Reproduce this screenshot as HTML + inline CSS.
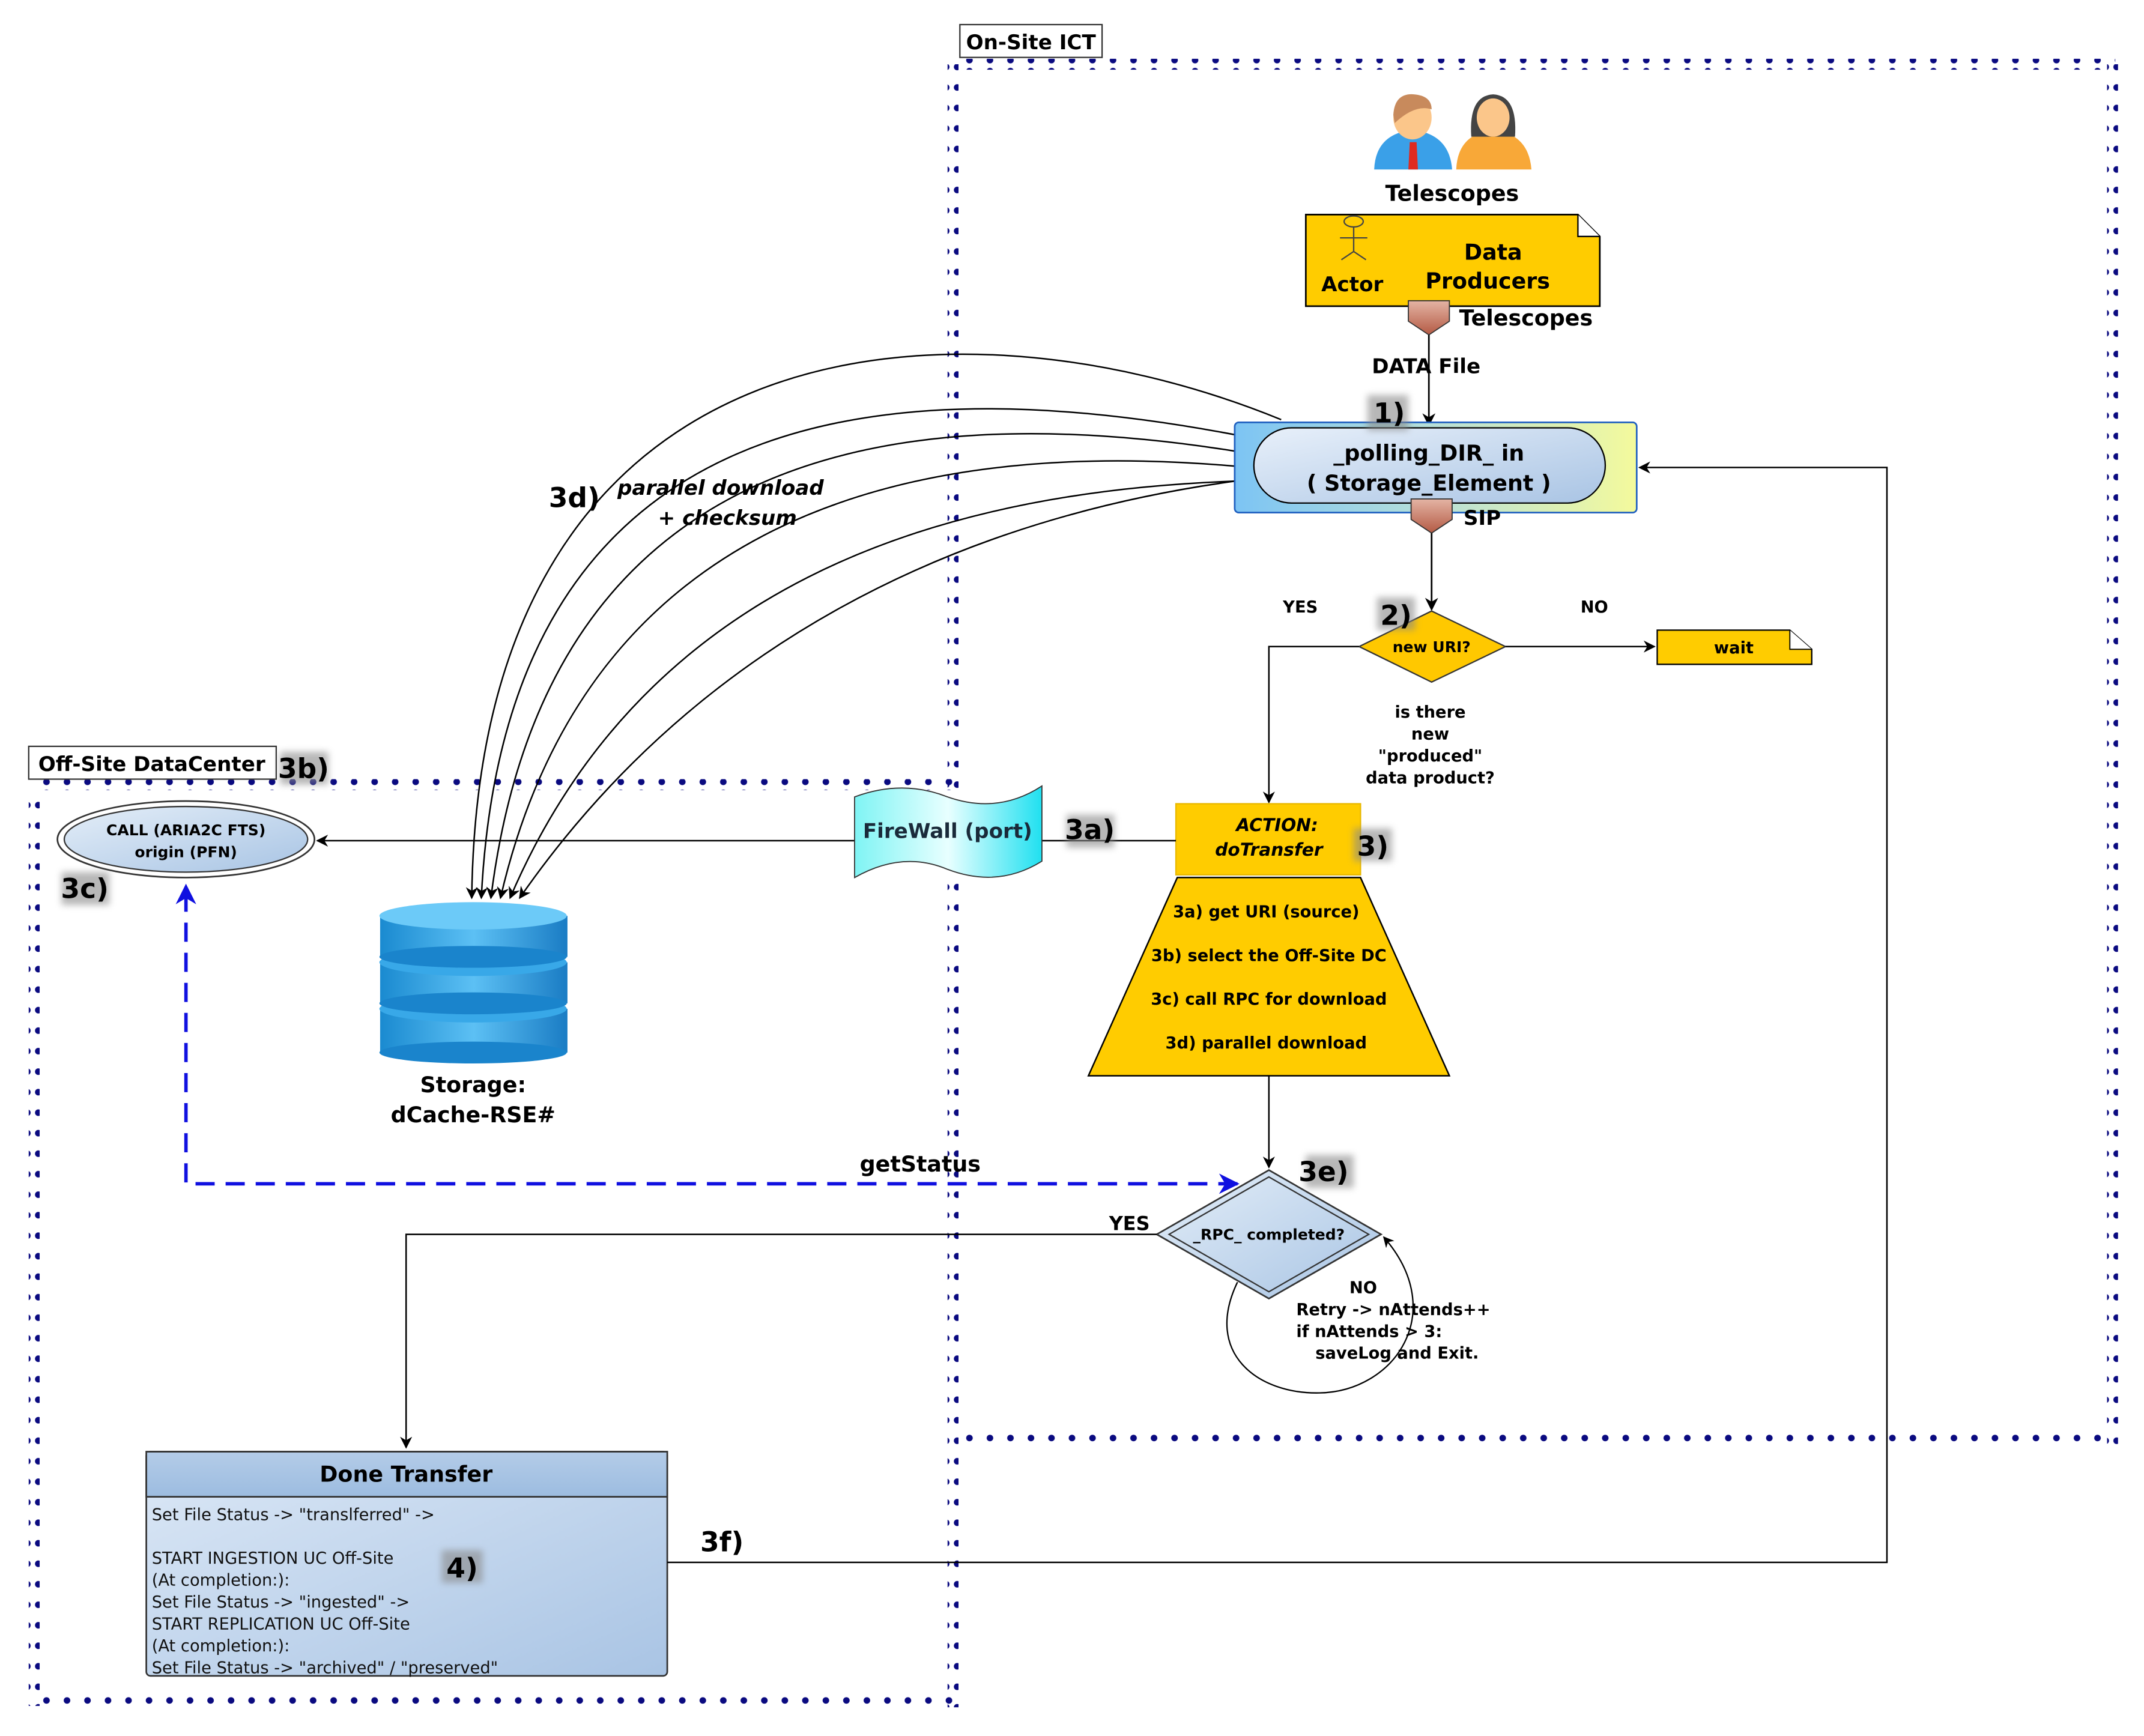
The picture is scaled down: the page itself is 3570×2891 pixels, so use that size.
<!DOCTYPE html>
<html><head><meta charset="utf-8"><style>
html,body{margin:0;padding:0;background:#fff;}
svg{display:block;}
text{font-family:"DejaVu Sans","Liberation Sans",sans-serif;}
</style></head><body>
<svg width="3570" height="2891" viewBox="0 0 1568 1270" preserveAspectRatio="none" xmlns="http://www.w3.org/2000/svg">
<defs>
<marker id="ar" viewBox="0 0 10 10" refX="9" refY="5" markerWidth="8" markerHeight="8" orient="auto-start-reverse"><path d="M0,0 L10,5 L0,10 L3,5 z" fill="#000"/></marker>
<marker id="arb" viewBox="0 0 10 10" refX="9" refY="5" markerWidth="6" markerHeight="6" orient="auto-start-reverse"><path d="M0,0 L10,5 L0,10 L3,5 z" fill="#1010e0"/></marker>
<linearGradient id="pg" x1="0" x2="1" y1="0" y2="0"><stop offset="0" stop-color="#7cc4f4"/><stop offset="0.5" stop-color="#b8e0d8"/><stop offset="1" stop-color="#f4fa9c"/></linearGradient>
<linearGradient id="pill" x1="0" x2="1" y1="0" y2="1"><stop offset="0" stop-color="#e8f0fa"/><stop offset="1" stop-color="#a9c4e4"/></linearGradient>
<linearGradient id="dg" x1="0" x2="1" y1="0" y2="1"><stop offset="0" stop-color="#e4eef8"/><stop offset="1" stop-color="#a8c4e4"/></linearGradient>
<linearGradient id="fw" x1="0" x2="1"><stop offset="0" stop-color="#7ff4f4"/><stop offset="0.5" stop-color="#e8ffff"/><stop offset="1" stop-color="#20e0f0"/></linearGradient>
<linearGradient id="hd" x1="0" x2="0" y1="0" y2="1"><stop offset="0" stop-color="#b4cce8"/><stop offset="1" stop-color="#9cbce0"/></linearGradient>
<linearGradient id="bd" x1="0" x2="1" y1="0" y2="1"><stop offset="0" stop-color="#dce8f6"/><stop offset="1" stop-color="#a9c4e4"/></linearGradient>
<linearGradient id="cyl" x1="0" x2="1"><stop offset="0" stop-color="#1a8ad0"/><stop offset="0.5" stop-color="#5cc0f4"/><stop offset="1" stop-color="#1a7cc4"/></linearGradient>
<linearGradient id="port" x1="0" x2="0" y1="0" y2="1"><stop offset="0" stop-color="#e4b4a4"/><stop offset="1" stop-color="#b45a44"/></linearGradient>
<filter id="bl" x="-30%" y="-30%" width="160%" height="160%"><feGaussianBlur stdDeviation="2.5"/></filter>
<pattern id="dh" width="15" height="8" patternUnits="userSpaceOnUse"><circle cx="4" cy="4" r="2.4" fill="#0a0a80"/></pattern>
<pattern id="dv" width="8" height="15" patternUnits="userSpaceOnUse"><circle cx="4" cy="4" r="2.4" fill="#0a0a80"/></pattern>
</defs>

<rect x="697" y="43" width="850" height="8" fill="url(#dh)"/>
<rect x="1541" y="47" width="8" height="1010" fill="url(#dv)"/>
<rect x="705" y="1049" width="840" height="8" fill="url(#dh)"/>
<rect x="693" y="47" width="8" height="1202" fill="url(#dv)"/>
<rect x="25" y="570" width="672" height="8" fill="url(#dh)"/>
<rect x="21" y="578" width="8" height="670" fill="url(#dv)"/>
<rect x="25" y="1241" width="672" height="8" fill="url(#dh)"/>

<rect x="702" y="18" width="104" height="24" fill="#fff" stroke="#333" stroke-width="1"/>
<text x="754" y="36" font-size="15" font-weight="bold" text-anchor="middle">On-Site ICT</text>
<rect x="21" y="546" width="181" height="24" fill="#fff" stroke="#333" stroke-width="1"/>
<text x="111" y="564" font-size="15" font-weight="bold" text-anchor="middle">Off-Site DataCenter</text>

<g>
<path d="M1005,124 Q1006,98 1033,95 Q1060,98 1062,124 Z" fill="#3aa0e8"/>
<path d="M1031,104 L1036,104 L1037,124 L1030,124 Z" fill="#e02a20"/>
<ellipse cx="1033" cy="86" rx="14" ry="16" fill="#fbc68a"/>
<path d="M1019,84 Q1020,68 1034,69 Q1047,70 1047,80 Q1035,76 1020,90 Z" fill="#c88a5c"/>
<path d="M1065,124 Q1066,98 1092,95 Q1118,98 1120,124 Z" fill="#f8a838"/>
<path d="M1076,100 Q1074,70 1092,69 Q1110,70 1108,100 Z" fill="#444"/>
<ellipse cx="1092" cy="86" rx="12" ry="14" fill="#fbc68a"/>
</g>
<text x="1062" y="147" font-size="16" font-weight="bold" text-anchor="middle">Telescopes</text>

<path d="M955,157 L1154,157 L1170,173 L1170,224 L955,224 Z" fill="#ffcc00" stroke="#000" stroke-width="1.2"/>
<path d="M1154,157 L1154,173 L1170,173" fill="#fff" stroke="#000" stroke-width="1"/>
<g stroke="#444" stroke-width="1" fill="none"><ellipse cx="990" cy="162" rx="7" ry="4"/><path d="M990,166 V184 M980,174 H1000 M990,184 L981,190 M990,184 L999,190"/></g>
<text x="989" y="213" font-size="15" font-weight="bold" text-anchor="middle">Actor</text>
<text x="1092" y="190" font-size="16" font-weight="bold" text-anchor="middle">Data</text>
<text x="1088" y="211" font-size="16" font-weight="bold" text-anchor="middle">Producers</text>
<path d="M1030,220 L1060,220 L1060,235 L1045,245 L1030,235 Z" fill="url(#port)" stroke="#333" stroke-width="0.8"/>
<text x="1116" y="238" font-size="16" font-weight="bold" text-anchor="middle">Telescopes</text>
<line x1="1045" y1="245" x2="1045" y2="311" stroke="#000" stroke-width="1.2" marker-end="url(#ar)"/>
<text x="1043" y="273" font-size="15" font-weight="bold" text-anchor="middle">DATA File</text>

<g fill="none" stroke="#000" stroke-width="1.1" marker-end="url(#ar)">
<path d="M937,307 C700,210 350,230 345,657"/>
<path d="M903,318 C650,270 370,290 352,657"/>
<path d="M903,330 C650,290 400,330 359,657"/>
<path d="M903,341 C660,320 430,380 366,657"/>
<path d="M903,352 C680,360 470,430 373,657"/>
<path d="M903,352 C700,380 510,470 380,657"/>
</g>
<text x="420" y="371" font-size="20" font-weight="bold" text-anchor="middle">3d)</text>
<text x="527" y="362" font-size="15" font-weight="bold" font-style="italic" text-anchor="middle">parallel download</text>
<text x="532" y="384" font-size="15" font-weight="bold" font-style="italic" text-anchor="middle">+ checksum</text>

<rect x="903" y="309" width="294" height="66" rx="3" fill="url(#pg)" stroke="#2060c0" stroke-width="1.2"/>
<rect x="917" y="313" width="257" height="55" rx="27.5" fill="url(#pill)" stroke="#000" stroke-width="1"/>
<text x="1045" y="337" font-size="16" font-weight="bold" text-anchor="middle">_polling_DIR_ in</text>
<text x="1045" y="359" font-size="16" font-weight="bold" text-anchor="middle">( Storage_Element )</text>
<rect x="1000" y="289" width="30" height="26" fill="#888" opacity="0.6" filter="url(#bl)"/>
<text x="1016" y="309" font-size="20" font-weight="bold" text-anchor="middle">1)</text>
<path d="M1032,365 L1062,365 L1062,380 L1047,390 L1032,380 Z" fill="url(#port)" stroke="#333" stroke-width="0.8"/>
<text x="1084" y="384" font-size="15" font-weight="bold" text-anchor="middle">SIP</text>
<line x1="1047" y1="390" x2="1047" y2="446" stroke="#000" stroke-width="1.2" marker-end="url(#ar)"/>

<polygon points="1047,447 1101,473 1047,499 994,473" fill="#ffc800" stroke="#333" stroke-width="1"/>
<text x="1047" y="477" font-size="11" font-weight="bold" text-anchor="middle">new URI?</text>
<rect x="1007" y="437" width="28" height="24" fill="#888" opacity="0.6" filter="url(#bl)"/>
<text x="1021" y="457" font-size="20" font-weight="bold" text-anchor="middle">2)</text>
<text x="951" y="448" font-size="12" font-weight="bold" text-anchor="middle">YES</text>
<text x="1166" y="448" font-size="12" font-weight="bold" text-anchor="middle">NO</text>
<line x1="1101" y1="473" x2="1210" y2="473" stroke="#000" stroke-width="1.1" marker-end="url(#ar)"/>
<path d="M1212,461 L1309,461 L1325,475 L1325,486 L1212,486 Z" fill="#ffcc00" stroke="#000" stroke-width="1"/>
<path d="M1309,461 L1309,475 L1325,475" fill="#fff" stroke="#000" stroke-width="0.8"/>
<text x="1268" y="478" font-size="12" font-weight="bold" text-anchor="middle">wait</text>
<path d="M994,473 L928,473 L928,587" fill="none" stroke="#000" stroke-width="1.1" marker-end="url(#ar)"/>
<g font-size="12" font-weight="bold" text-anchor="middle">
<text x="1046" y="525">is there</text><text x="1046" y="541">new</text><text x="1046" y="557">"produced"</text><text x="1046" y="573">data product?</text>
</g>

<rect x="860" y="588" width="135" height="52" fill="#ffcc00" stroke="#e8b800" stroke-width="1"/>
<text x="934" y="608" font-size="13" font-weight="bold" font-style="italic" text-anchor="middle">ACTION:</text>
<text x="928" y="626" font-size="13" font-weight="bold" font-style="italic" text-anchor="middle">doTransfer</text>
<rect x="990" y="606" width="28" height="24" fill="#888" opacity="0.6" filter="url(#bl)"/>
<text x="1004" y="626" font-size="20" font-weight="bold" text-anchor="middle">3)</text>
<polygon points="861,642 995,642 1060,787 796,787" fill="#ffcc00" stroke="#000" stroke-width="1.1"/>
<g font-size="12" font-weight="bold" text-anchor="middle">
<text x="926" y="671">3a) get URI (source)</text>
<text x="928" y="703">3b) select the Off-Site DC</text>
<text x="928" y="735">3c) call RPC for download</text>
<text x="926" y="767">3d) parallel download</text>
</g>
<line x1="928" y1="787" x2="928" y2="854" stroke="#000" stroke-width="1.1" marker-end="url(#ar)"/>

<polygon points="928,856 1010,903 928,950 846,903" fill="url(#dg)" stroke="#333" stroke-width="1.2"/>
<polygon points="928,861 1001,903 928,945 855,903" fill="none" stroke="#333" stroke-width="1"/>
<text x="928" y="907" font-size="11" font-weight="bold" text-anchor="middle">_RPC_ completed?</text>
<rect x="955" y="845" width="35" height="24" fill="#888" opacity="0.6" filter="url(#bl)"/>
<text x="968" y="864" font-size="20" font-weight="bold" text-anchor="middle">3e)</text>
<text x="826" y="900" font-size="14" font-weight="bold" text-anchor="middle">YES</text>
<path d="M905,938 C880,990 920,1020 965,1019 C1020,1018 1060,960 1012,905" fill="none" stroke="#000" stroke-width="1" marker-end="url(#ar)"/>
<g font-size="12" font-weight="bold">
<text x="997" y="946" text-anchor="middle">NO</text>
<text x="948" y="962">Retry -&gt; nAttends++</text>
<text x="948" y="978">if nAttends &gt; 3:</text>
<text x="962" y="994">saveLog and Exit.</text>
</g>
<path d="M846,903 L297,903 L297,1059" fill="none" stroke="#000" stroke-width="1.1" marker-end="url(#ar)"/>

<line x1="860" y1="615" x2="232" y2="615" stroke="#000" stroke-width="1.1" marker-end="url(#ar)"/>
<path d="M625,583 Q660,570 693,583 Q730,596 762,575 L762,630 Q730,650 693,636 Q660,622 625,642 Z" fill="url(#fw)" stroke="#333" stroke-width="0.8"/>
<text x="693" y="613" font-size="15" font-weight="bold" fill="#1a2a3a" text-anchor="middle">FireWall (port)</text>
<rect x="780" y="596" width="35" height="24" fill="#888" opacity="0.6" filter="url(#bl)"/>
<text x="797" y="614" font-size="20" font-weight="bold" text-anchor="middle">3a)</text>

<ellipse cx="136" cy="614" rx="94" ry="28" fill="#fff" stroke="#333" stroke-width="1.2"/>
<ellipse cx="136" cy="614" rx="89" ry="24" fill="url(#dg)" stroke="#333" stroke-width="1"/>
<text x="136" y="611" font-size="11" font-weight="bold" text-anchor="middle">CALL (ARIA2C FTS)</text>
<text x="136" y="627" font-size="11" font-weight="bold" text-anchor="middle">origin (PFN)</text>
<rect x="45" y="638" width="35" height="24" fill="#888" opacity="0.6" filter="url(#bl)"/>
<text x="62" y="657" font-size="20" font-weight="bold" text-anchor="middle">3c)</text>
<rect x="205" y="550" width="35" height="24" fill="#888" opacity="0.6" filter="url(#bl)"/>
<text x="222" y="569" font-size="20" font-weight="bold" text-anchor="middle">3b)</text>

<g>
<rect x="278" y="738" width="137" height="32" fill="url(#cyl)"/><ellipse cx="346" cy="770" rx="68.5" ry="8" fill="#1a84cc"/><ellipse cx="346" cy="738" rx="68.5" ry="10" fill="#38a8e8"/>
<rect x="278" y="704" width="137" height="30" fill="url(#cyl)"/><ellipse cx="346" cy="734" rx="68.5" ry="8" fill="#1a84cc"/><ellipse cx="346" cy="704" rx="68.5" ry="10" fill="#38a8e8"/>
<rect x="278" y="670" width="137" height="30" fill="url(#cyl)"/><ellipse cx="346" cy="700" rx="68.5" ry="8" fill="#1a84cc"/><ellipse cx="346" cy="670" rx="68.5" ry="10" fill="#6ccaf8"/>
</g>
<text x="346" y="799" font-size="16" font-weight="bold" text-anchor="middle">Storage:</text>
<text x="346" y="821" font-size="16" font-weight="bold" text-anchor="middle">dCache-RSE#</text>

<path d="M905,866 L136,866 L136,648" fill="none" stroke="#1010e0" stroke-width="2.5" stroke-dasharray="14,8" marker-start="url(#arb)" marker-end="url(#arb)"/>
<text x="673" y="857" font-size="16" font-weight="bold" text-anchor="middle">getStatus</text>

<rect x="107" y="1062" width="381" height="164" rx="3" fill="url(#bd)" stroke="#333" stroke-width="1.2"/>
<rect x="107" y="1062" width="381" height="33" fill="url(#hd)" stroke="#333" stroke-width="1.2"/>
<text x="297" y="1084" font-size="16" font-weight="bold" text-anchor="middle">Done Transfer</text>
<g font-size="12" fill="#111">
<text x="111" y="1112">Set File Status -&gt; "translferred" -&gt;</text>
<text x="111" y="1144">START INGESTION UC Off-Site</text>
<text x="111" y="1160">(At completion:):</text>
<text x="111" y="1176">Set File Status -&gt; "ingested" -&gt;</text>
<text x="111" y="1192">START REPLICATION UC Off-Site</text>
<text x="111" y="1208">(At completion:):</text>
<text x="111" y="1224">Set File Status -&gt; "archived" / "preserved"</text>
</g>
<rect x="323" y="1134" width="30" height="24" fill="#888" opacity="0.6" filter="url(#bl)"/>
<text x="338" y="1154" font-size="20" font-weight="bold" text-anchor="middle">4)</text>
<text x="528" y="1135" font-size="20" font-weight="bold" text-anchor="middle">3f)</text>
<path d="M488,1143 L1380,1143 L1380,342 L1199,342" fill="none" stroke="#000" stroke-width="1.1" marker-end="url(#ar)"/>
</svg>
</body></html>
